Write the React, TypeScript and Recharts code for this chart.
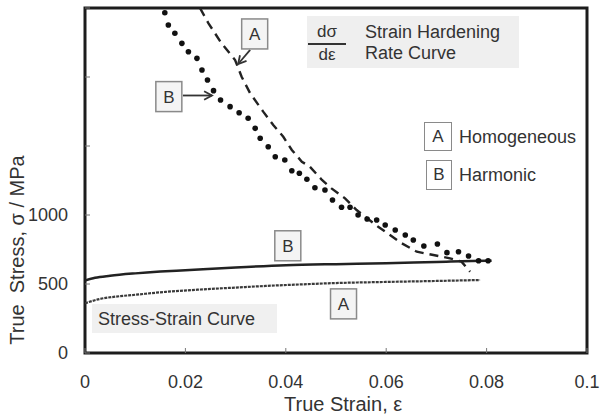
import React from "react"
import { LineChart, Line, XAxis, YAxis, ReferenceArea, ReferenceDot, ReferenceLine } from "recharts"

// strain hardening rate, curve A (homogeneous, dashed)
const hardenAStrain = [0.0229, 0.0246, 0.0272, 0.0299, 0.0312, 0.0329, 0.0355, 0.0375, 0.0395, 0.0412, 0.0432, 0.0448, 0.0472, 0.0491, 0.0518, 0.0541, 0.0584, 0.0631, 0.0661, 0.0694, 0.0727, 0.075, 0.0767]
const hardenARate = [2500, 2389, 2244, 2123, 2002, 1882, 1749, 1652, 1567, 1471, 1386, 1350, 1254, 1193, 1121, 1036, 915, 795, 734, 710, 686, 662, 589]

// strain hardening rate, curve B (harmonic, dotted)
const hardenBStrain = [0.0159, 0.0166, 0.0179, 0.0193, 0.0206, 0.0223, 0.0233, 0.0244, 0.0256, 0.027, 0.0289, 0.0307, 0.0325, 0.0339, 0.0349, 0.0365, 0.0379, 0.0398, 0.0412, 0.0427, 0.0442, 0.0458, 0.0478, 0.0493, 0.0511, 0.0528, 0.0544, 0.0562, 0.0581, 0.0598, 0.0618, 0.0638, 0.0654, 0.0675, 0.0702, 0.0721, 0.0744, 0.0764, 0.0784, 0.0803]
const hardenBRate = [2466, 2377, 2317, 2244, 2183, 2135, 2051, 1978, 1901, 1833, 1785, 1741, 1701, 1628, 1556, 1495, 1422, 1399, 1321, 1302, 1259, 1198, 1181, 1109, 1056, 1056, 1000, 971, 964, 928, 891, 855, 819, 775, 790, 727, 734, 703, 669, 669]

// true stress-strain curves
const stressAStrain = [0, 0.003, 0.006, 0.01, 0.016, 0.023, 0.03, 0.036, 0.043, 0.05, 0.06, 0.07, 0.0787]
const stressAValue = [360, 392, 408, 422, 443, 460, 474, 486, 497, 507, 515, 522, 529]
const stressBStrain = [0, 0.002, 0.005, 0.01, 0.015, 0.02, 0.03, 0.04, 0.05, 0.06, 0.07, 0.08, 0.081]
const stressBValue = [525, 545, 560, 577, 590, 600, 620, 636, 644, 650, 660, 668, 668]

const xTicks = [0, 0.02, 0.04, 0.06, 0.08, 0.1]
const yTicks = [0, 500, 1000, 1500, 2000, 2500]

// callout boxes placed in data space
const callouts = [
  { label: "A", x: 0.0338, y: 2312 },
  { label: "B", x: 0.0167, y: 1858 },
  { label: "B", x: 0.0404, y: 777 },
  { label: "A", x: 0.0515, y: 356 },
]
const arrows = [
  { x1: 0.0329, y1: 2196, x2: 0.0305, y2: 2094 },
  { x1: 0.0195, y1: 1866, x2: 0.0253, y2: 1866 },
]

const zip = (xs: number[], ys: number[]) => xs.map((x, i) => ({ x, y: ys[i] }))

const font = "'Liberation Sans', Arial, sans-serif"

const CalloutBox = (props: any) => {
  const { cx, cy, label } = props
  return (
    <g>
      <rect x={cx - 13} y={cy - 15} width={26} height={30} fill="#f4f4f4" stroke="#8a8a8a" strokeWidth={1.5} />
      <text x={cx} y={cy + 6} textAnchor="middle" fontSize={17} fill="#333" fontFamily={font}>{label}</text>
    </g>
  )
}

const Arrow = (props: any) => {
  const { x1, y1, x2, y2 } = props
  const a = Math.atan2(y2 - y1, x2 - x1)
  const len = 9
  const p1 = [x2 - len * Math.cos(a - 0.5), y2 - len * Math.sin(a - 0.5)]
  const p2 = [x2 - len * Math.cos(a + 0.5), y2 - len * Math.sin(a + 0.5)]
  return (
    <g stroke="#333" strokeWidth={1.8} fill="none">
      <line x1={x1} y1={y1} x2={x2} y2={y2} />
      <polyline points={`${p1[0]},${p1[1]} ${x2},${y2} ${p2[0]},${p2[1]}`} />
    </g>
  )
}

const legendBox: React.CSSProperties = {
  position: "absolute", boxSizing: "border-box", border: "1.5px solid #8a8a8a", background: "#fff",
  display: "flex", alignItems: "center", justifyContent: "center", fontSize: 17, color: "#333",
}
const legendText: React.CSSProperties = { position: "absolute", fontSize: 18, color: "#333", lineHeight: "20px", whiteSpace: "nowrap" }

export default function App() {
  return (
    <div style={{ position: "relative", width: 601, height: 418, background: "#fff", fontFamily: font }}>
      <style>{"body{margin:0}"}</style>
      <LineChart width={601} height={418} margin={{ top: 8, right: 14, bottom: 25, left: 25 }}>
        <XAxis
          type="number"
          dataKey="x"
          domain={[0, 0.1]}
          ticks={xTicks}
          tickFormatter={(v: number) => String(v)}
          height={40}
          axisLine={false}
          tickSize={-5}
          tickMargin={27}
          tickLine={{ stroke: "#777", strokeWidth: 1 }}
          tick={{ fill: "#333", fontSize: 18, fontFamily: font }}
          allowDataOverflow
        />
        <YAxis
          type="number"
          domain={[0, 2500]}
          ticks={yTicks}
          tickFormatter={(v: number) => (v <= 1000 ? String(v) : "")}
          width={60}
          axisLine={false}
          tickSize={-5}
          tickMargin={22}
          tickLine={{ stroke: "#777", strokeWidth: 1 }}
          tick={{ fill: "#333", fontSize: 18, fontFamily: font }}
          allowDataOverflow
        />
        <Line data={zip(stressAStrain, stressAValue)} dataKey="y" type="monotone" stroke="#3a3a3a" strokeWidth={2.2} strokeDasharray="3 1" dot={false} isAnimationActive={false} />
        <Line data={zip(stressBStrain, stressBValue)} dataKey="y" type="monotone" stroke="#222" strokeWidth={2.5} dot={false} isAnimationActive={false} />
        <Line data={zip(hardenAStrain, hardenARate)} dataKey="y" type="linear" stroke="#222" strokeWidth={2.4} strokeDasharray="9 6" dot={false} isAnimationActive={false} />
        <Line data={zip(hardenBStrain, hardenBRate)} dataKey="y" type="linear" stroke="none" dot={{ r: 2.8, fill: "#111", stroke: "none" }} isAnimationActive={false} />
        {arrows.map((a, i) => (
          <ReferenceLine key={"ar" + i} segment={[{ x: a.x1, y: a.y1 }, { x: a.x2, y: a.y2 }]} shape={Arrow} />
        ))}
        {callouts.map((c, i) => (
          <ReferenceDot key={"co" + i} x={c.x} y={c.y} r={1} shape={(p: any) => <CalloutBox {...p} label={c.label} />} />
        ))}
        <ReferenceArea x1={0} x2={0.1} y1={0} y2={2500} fill="none" stroke="#1c1c1c" strokeWidth={3} />
      </LineChart>

      {/* strain hardening rate legend */}
      <div style={{ position: "absolute", left: 307, top: 16, width: 212, height: 52, background: "#efefef" }} />
      <div style={{ ...legendText, left: 308, top: 22, width: 38, textAlign: "center", fontSize: 17 }}>dσ</div>
      <div style={{ position: "absolute", left: 308, top: 43, width: 38, height: 2, background: "#333" }} />
      <div style={{ ...legendText, left: 308, top: 45, width: 38, textAlign: "center", fontSize: 17 }}>dε</div>
      <div style={{ ...legendText, left: 365, top: 22 }}>Strain Hardening</div>
      <div style={{ ...legendText, left: 365, top: 43 }}>Rate Curve</div>

      <div style={{ ...legendBox, left: 424, top: 122, width: 28, height: 29 }}>A</div>
      <div style={{ ...legendText, left: 459, top: 127 }}>Homogeneous</div>
      <div style={{ ...legendBox, left: 426, top: 160, width: 26, height: 30 }}>B</div>
      <div style={{ ...legendText, left: 459, top: 165 }}>Harmonic</div>

      <div style={{ position: "absolute", left: 92, top: 304, width: 185, height: 29, background: "#f0f0f0" }} />
      <div style={{ ...legendText, left: 98, top: 309 }}>Stress-Strain Curve</div>

      {/* axis titles */}
      <div style={{ position: "absolute", left: 284, top: 393, width: 120, fontSize: 20, color: "#333", whiteSpace: "nowrap", lineHeight: "22px" }}>True Strain, ε</div>
      <div
        style={{
          position: "absolute", left: 17, top: 250, width: 240, fontSize: 20, color: "#333", textAlign: "center",
          whiteSpace: "pre", lineHeight: "22px", transform: "translate(-50%, -50%) rotate(-90deg)",
        }}
      >
        {"True  Stress, σ / MPa"}
      </div>
    </div>
  )
}
